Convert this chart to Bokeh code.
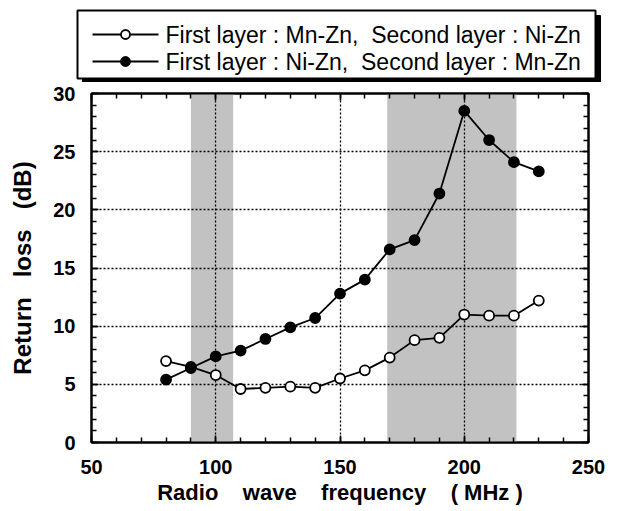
from bokeh.plotting import figure
from bokeh.models import (Range1d, FixedTicker, LinearAxis, BoxAnnotation,
                          CustomJSTickFormatter, ColumnDataSource)
from bokeh.core.properties import value
from bokeh.embed import file_html
from bokeh.resources import INLINE

NB = "\u00a0"

# ---------------- data ----------------
freq = [80, 90, 100, 110, 120, 130, 140, 150, 160, 170, 180, 190, 200, 210, 220, 230]
mnzn_first = [7.0, 6.5, 5.8, 4.6, 4.7, 4.8, 4.7, 5.5, 6.2, 7.3, 8.8, 9.0, 11.0, 10.9, 10.9, 12.2]
nizn_first = [5.4, 6.4, 7.4, 7.9, 8.9, 9.9, 10.7, 12.8, 14.0, 16.6, 17.4, 21.4, 28.5, 26.0, 24.1, 23.3]
series_labels = [
    "First layer : Mn-Zn," + NB * 2 + "Second layer : Ni-Zn",
    "First layer : Ni-Zn," + NB * 2 + "Second layer : Mn-Zn",
]
band_starts = [90, 169]
band_ends = [107, 221]
x_major = [50, 100, 150, 200, 250]
x_minor = list(range(50, 251, 10))
y_major = [0, 5, 10, 15, 20, 25, 30]
y_minor = list(range(0, 31, 1))

FONT = "Liberation Sans"

# ---------------- legend figure (pixel coordinates) ----------------
LW, LH = 614, 82
leg = figure(width=LW, height=LH, x_range=Range1d(0, LW), y_range=Range1d(LH, 0),
             output_backend="svg", toolbar_location=None, min_border=0)
leg.axis.visible = False
leg.grid.visible = False
leg.outline_line_color = None
leg.background_fill_color = None
leg.border_fill_color = None

leg.quad(left=[82], right=[600], top=[15], bottom=[82], fill_color="black", line_color="black")
leg.quad(left=[77], right=[595], top=[10], bottom=[78], fill_color="white",
         line_color="black", line_width=2)
row_y = [34, 61]
fills = ["white", "black"]
for yy, fc, lab in zip(row_y, fills, series_labels):
    leg.line(x=[92, 158], y=[yy, yy], line_color="black", line_width=2)
    leg.scatter(x=[125], y=[yy], size=9, fill_color=fc, line_color="black", line_width=1.8)
    leg.text(x=[165], y=[yy], text=[lab], text_font=value(FONT), text_font_size="23px",
             text_baseline="middle", text_align="left", text_color="black")

# ---------------- main figure ----------------
p = figure(frame_width=497, frame_height=349, x_range=Range1d(50, 250), y_range=Range1d(0, 30),
           output_backend="svg", toolbar_location=None,
           min_border_left=91, min_border_right=26, min_border_top=11, min_border_bottom=60)
p.outline_line_color = "black"
p.outline_line_width = 2

bands = []
for s, e in zip(band_starts, band_ends):
    b = BoxAnnotation(left=s, right=e, fill_color="#c2c2c2", fill_alpha=1.0,
                      line_color=None, level="underlay")
    bands.append(b)
p.center = bands + list(p.center)

for g in (p.xgrid, p.ygrid):
    g.grid_line_color = "black"
    g.grid_line_dash = "2 2"
    g.grid_line_width = 1.3

src = ColumnDataSource(dict(x=freq, a=mnzn_first, b=nizn_first))
p.line("x", "a", source=src, line_color="black", line_width=1.8)
p.line("x", "b", source=src, line_color="black", line_width=1.8)
p.scatter("x", "a", source=src, size=10, fill_color="white", line_color="black", line_width=1.8)
p.scatter("x", "b", source=src, size=10, fill_color="black", line_color="black", line_width=1.8)

p.xaxis.ticker = FixedTicker(ticks=x_major, minor_ticks=x_minor)
p.yaxis.ticker = FixedTicker(ticks=y_major, minor_ticks=y_minor)

def style_axis(ax):
    ax.axis_line_width = 2
    ax.axis_line_color = "black"
    ax.major_tick_in = 7
    ax.major_tick_out = 0
    ax.minor_tick_in = 5
    ax.minor_tick_out = 0
    ax.major_tick_line_width = 1.5
    ax.minor_tick_line_width = 1.5
    ax.major_tick_line_color = "black"
    ax.minor_tick_line_color = "black"

for ax in (p.xaxis[0], p.yaxis[0]):
    style_axis(ax)
    ax.major_label_text_font = FONT
    ax.major_label_text_font_size = "20px"
    ax.major_label_text_font_style = "bold"
    ax.major_label_text_color = "black"
    ax.axis_label_text_font = FONT
    ax.axis_label_text_font_style = "bold"
    ax.axis_label_text_color = "black"

p.xaxis.axis_label_text_font_size = "22px"
p.yaxis.axis_label_text_font_size = "24px"
p.xaxis.axis_label = ("Radio" + NB * 4 + "wave" + NB * 4 + "frequency" + NB * 4
                      + "(" + NB + "MHz" + NB + ")")
p.yaxis.axis_label = "Return" + NB * 3 + "loss" + NB * 3 + "(dB)"
p.xaxis.major_label_standoff = 17
p.xaxis.axis_label_standoff = 3
p.yaxis.major_label_standoff = 16
p.yaxis.axis_label_standoff = 14

blank = CustomJSTickFormatter(code="return ''")
top_ax = LinearAxis(ticker=FixedTicker(ticks=x_major, minor_ticks=x_minor), formatter=blank)
right_ax = LinearAxis(ticker=FixedTicker(ticks=y_major, minor_ticks=y_minor), formatter=blank)
for ax in (top_ax, right_ax):
    style_axis(ax)
    ax.major_label_text_font_size = "1px"
    ax.major_label_standoff = 0
p.add_layout(top_ax, "above")
p.add_layout(right_ax, "right")

open("out.html", "w").write(file_html([leg, p], INLINE))
